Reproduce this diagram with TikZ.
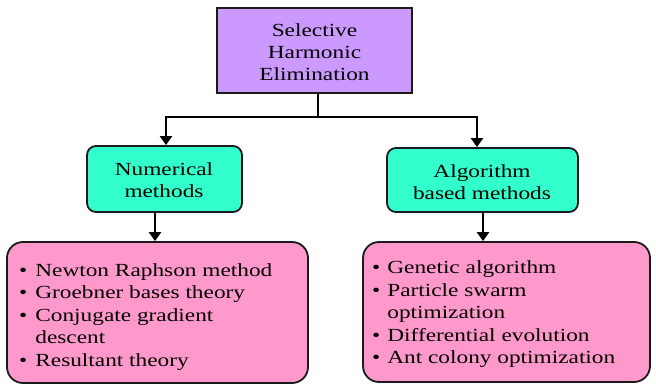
\documentclass[tikz,border=0pt]{standalone}
\usepackage{fontspec}
\setmainfont[FakeStretch=1.26]{Liberation Serif}
\usetikzlibrary{arrows.meta}
\definecolor{topfill}{HTML}{CC99FF}
\definecolor{midfill}{HTML}{33FFCC}
\definecolor{botfill}{HTML}{FF99CC}
\definecolor{edge}{HTML}{1A1A1A}
\tikzset{
  box/.style={draw=edge, line width=1.8pt, inner sep=0pt},
  topbox/.style={box, fill=topfill, minimum width=195pt, minimum height=85pt},
  midbox/.style={box, fill=midfill, rounded corners=9pt},
  botbox/.style={box, fill=botfill, rounded corners=16pt},
  txt/.style={align=center, font=\fontsize{18.5}{22}\selectfont, inner sep=0pt},
  listtxt/.style={anchor=north west, inner sep=0pt, font=\fontsize{18.5}{22.5}\selectfont},
  conn/.style={line width=2.4pt, draw=black},
  arr/.style={conn, -{Triangle[width=12pt,length=9pt]}},
}
\begin{document}
\begin{tikzpicture}[x=1pt,y=-1pt]
\useasboundingbox (0,0) rectangle (656,387);
% top
\node[topbox] (top) at (314.5,50.5) {};
\node[txt] (toptxt) at (314.5,52) {Selective\\Harmonic\\Elimination};
% middle
\node[midbox, minimum width=155pt, minimum height=66pt] (g1) at (164.5,179) {};
\node[txt] (g1txt) at (164,180) {Numerical\\methods};
\node[midbox, minimum width=191pt, minimum height=64pt] (g2) at (482.5,180) {};
\node[txt] (g2txt) at (482,182) {Algorithm\\based methods};
% bottom
\node[botbox, minimum width=301pt, minimum height=141pt] (p1) at (157.5,312.5) {};
\node[botbox, minimum width=287pt, minimum height=140pt] (p2) at (506.5,312) {};
\node[listtxt] (p1txt) at (19,260.5) {\begin{tabular}{@{}l@{\hspace{8pt}}l@{}}
\textbullet & Newton Raphson method\\
\textbullet & Groebner bases theory\\
\textbullet & Conjugate gradient\\
 & descent\\
\textbullet & Resultant theory
\end{tabular}};
\node[listtxt] (p2txt) at (372,258) {\begin{tabular}{@{}l@{\hspace{7pt}}l@{}}
\textbullet & Genetic algorithm\\
\textbullet & Particle swarm\\
 & optimization\\
\textbullet & Differential evolution\\
\textbullet & Ant colony optimization
\end{tabular}};
% connectors
\coordinate (j) at (318,117);
\coordinate (jl) at (166,117);
\coordinate (jr) at (477,117);
\draw[conn] (top.south -| j) -- (j);
\draw[conn] ([xshift=-1.2pt]jl) -- ([xshift=1.2pt]jr);
\draw[arr] (jl) -- (jl |- g1.north);
\draw[arr] (jr) -- (jr |- g2.north);
\coordinate (bl) at (155,0);
\coordinate (br) at (483,0);
\draw[arr] (bl |- g1.south) -- (bl |- p1.north);
\draw[arr] (br |- g2.south) -- (br |- p2.north);
\end{tikzpicture}
\end{document}
